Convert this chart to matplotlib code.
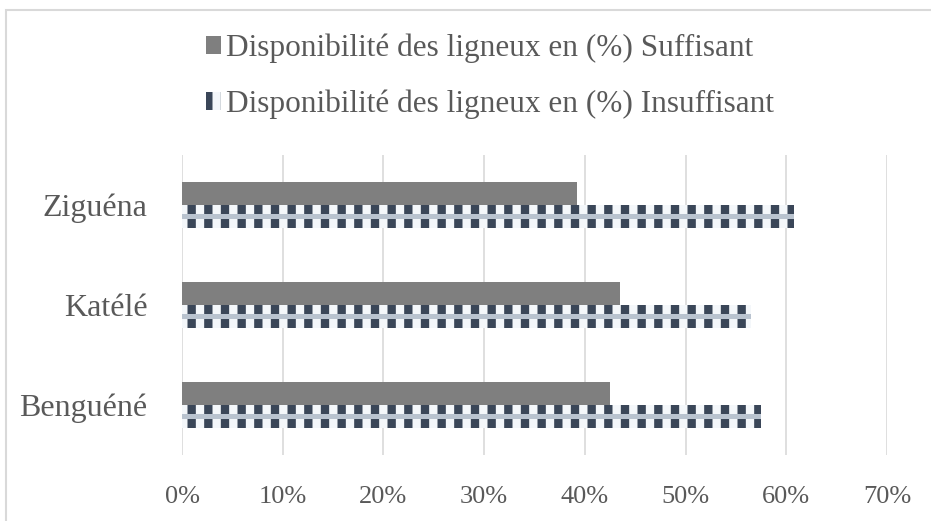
import matplotlib.pyplot as plt
import matplotlib.patches as mpatches
import numpy as np

plt.rcParams['font.family'] = ['Liberation Serif', 'DejaVu Serif']
plt.rcParams['hatch.linewidth'] = 6

sites = ['Benguéné', 'Katélé', 'Ziguéna']
suffisant = [42.5, 43.5, 39.2]
insuffisant = [57.5, 56.5, 60.8]
labels = ['Disponibilité des ligneux en (%) Suffisant',
          'Disponibilité des ligneux en (%) Insuffisant']
xticks = [0, 10, 20, 30, 40, 50, 60, 70]

text_col = '#595959'
fig = plt.figure(figsize=(9.31, 5.21), dpi=100)
ax = fig.add_axes([182 / 931, 1 - 455 / 521, 705 / 931, 300 / 521])

y = np.arange(len(sites))
h = 0.23
b1 = ax.barh(y + h / 2, suffisant, height=h, color='#7f7f7f', zorder=3)
b2 = ax.barh(y - h / 2, insuffisant, height=h, color='#f4f7fa',
             edgecolor='#3a4658', hatch='|', linewidth=0, zorder=3)
# light dotted band through the middle of the pattern
ax.barh(y - h / 2, insuffisant, height=h * 0.2, color='#b9c3cf',
        linewidth=0, zorder=4)

ax.set_xlim(0, 70)
ax.set_ylim(-0.5, 2.5)
ax.set_xticks(xticks)
ax.set_xticklabels([f'{v}%' for v in xticks], fontsize=19, color=text_col)
ax.set_yticks(y)
ax.set_yticklabels(sites, fontsize=23, color=text_col)
ax.tick_params(length=0, pad=25)
ax.tick_params(axis='x', pad=22)
ax.xaxis.grid(True, color='#d9d9d9', linewidth=1.2, zorder=0)
for s in ax.spines.values():
    s.set_visible(False)

fig.legend([b1, b2], labels, loc='upper center', bbox_to_anchor=(0.526, 0.99),
           frameon=False, fontsize=22.5, labelcolor=text_col, ncol=1,
           handlelength=0.5, handleheight=0.5, handletextpad=0.15,
           labelspacing=0.85)

fig.patches.append(mpatches.Rectangle((6 / 931, -0.01), 1, 1 - 10 / 521 + 0.01,
                                      transform=fig.transFigure, fill=False,
                                      edgecolor='#d9d9d9', linewidth=1.5))
fig.savefig('out.png', dpi=100)
